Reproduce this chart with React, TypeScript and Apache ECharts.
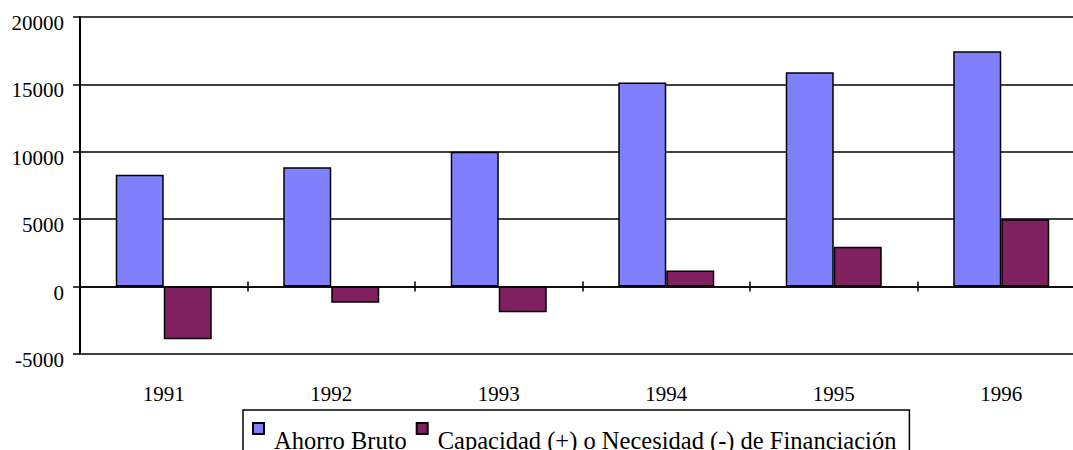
import React, { useEffect, useRef } from "react";
import * as echarts from "echarts";

const categories = ["1991", "1992", "1993", "1994", "1995", "1996"];
const ahorroBruto = [8300, 8850, 10000, 15150, 15900, 17450];
const capacidadNecesidad = [-3900, -1200, -1900, 1200, 2950, 5000];
const seriesNames = ["Ahorro Bruto", "Capacidad (+) o Necesidad (-) de Financiación"];
const yTicks = { min: -5000, max: 20000, step: 5000 };

const FONT = "'Liberation Serif', 'Times New Roman', serif";

export default function App() {
  const ref = useRef<HTMLDivElement>(null);

  useEffect(() => {
    if (!ref.current) return;
    const chart = echarts.init(ref.current, null, { renderer: "svg" });
    chart.setOption({
      animation: false,
      backgroundColor: "#ffffff",
      textStyle: { fontFamily: FONT },
      grid: { left: 80, top: 17, width: 1005, height: 337, containLabel: false },
      legend: {
        left: 243,
        top: 410,
        orient: "horizontal",
        padding: [12, 13, 8, 9],
        itemGap: 9,
        itemWidth: 11,
        itemHeight: 34,
        icon: "path://M0,0 L11,0 L11,11 L0,11 Z M0,34",
        borderColor: "#000",
        borderWidth: 1.5,
        textStyle: { fontFamily: FONT, fontSize: 24.5, color: "#000", padding: [0, 0, 0, 5] },
        data: seriesNames,
      },
      xAxis: [
        {
          type: "category",
          data: categories,
          position: "bottom",
          axisLine: { show: true, onZero: true, onZeroAxisIndex: 0, lineStyle: { color: "#000", width: 1.5 } },
          axisTick: { show: true, length: 5, inside: false, lineStyle: { color: "#000", width: 1.5 } },
          axisLabel: { show: false },
          splitLine: { show: false },
        },
        {
          type: "category",
          data: categories,
          position: "bottom",
          axisLine: { show: false, onZero: true, onZeroAxisIndex: 0 },
          axisTick: { show: true, length: 5, inside: true, lineStyle: { color: "#000", width: 1.5 } },
          axisLabel: { show: false },
          splitLine: { show: false },
        },
        {
          type: "category",
          data: categories,
          position: "bottom",
          axisLine: { show: false, onZero: false },
          axisTick: { show: false },
          axisLabel: { show: true, margin: 29, fontFamily: FONT, fontSize: 21, color: "#000" },
          splitLine: { show: false },
        },
      ],
      yAxis: {
        type: "value",
        min: yTicks.min,
        max: yTicks.max,
        interval: yTicks.step,
        axisLine: { show: true, onZero: false, lineStyle: { color: "#000", width: 2 } },
        axisTick: { show: true, length: 7, inside: false, lineStyle: { color: "#000", width: 1.5 } },
        axisLabel: {
          show: true,
          margin: 16,
          fontFamily: FONT,
          fontSize: 21,
          color: "#000",
          verticalAlign: "top",
          lineHeight: 12,
          formatter: (v: number) => String(v),
        },
        splitLine: { show: true, lineStyle: { color: "#000", width: 1.5 } },
      },
      series: [
        {
          name: seriesNames[0],
          type: "bar",
          xAxisIndex: 0,
          data: ahorroBruto,
          barWidth: 48,
          barGap: "0%",
          itemStyle: { color: "#8080FF", borderColor: "#000", borderWidth: 1.5 },
        },
        {
          name: seriesNames[1],
          type: "bar",
          xAxisIndex: 0,
          data: capacidadNecesidad,
          barWidth: 48,
          barGap: "0%",
          itemStyle: { color: "#802060", borderColor: "#000", borderWidth: 1.5 },
        },
      ],
    });
    return () => chart.dispose();
  }, []);

  return (
    <div
      style={{
        position: "fixed",
        left: 0,
        top: 0,
        width: 1073,
        height: 450,
        overflow: "hidden",
        background: "#fff",
      }}
    >
      <div ref={ref} style={{ width: 1100, height: 450 }} />
    </div>
  );
}
